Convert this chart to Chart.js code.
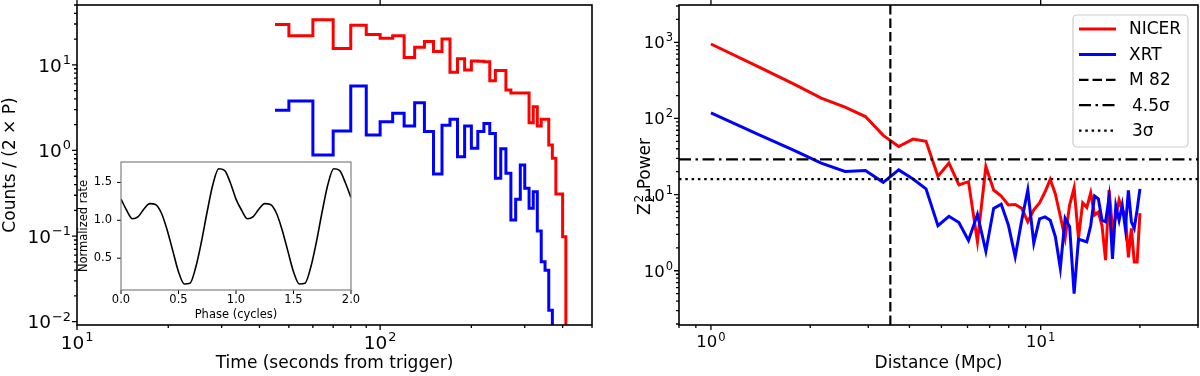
<!DOCTYPE html>
<html>
<head>
<meta charset="utf-8">
<script src="https://cdn.jsdelivr.net/npm/chart.js@4.4.1/dist/chart.umd.min.js"></script>
<style>
  html, body { margin: 0; padding: 0; background: #fff; }
  #wrap { position: relative; width: 1200px; height: 376px; }
  .box { position: absolute; }
</style>
</head>
<body>
<div id="wrap">
  <div class="box" style="left:0;top:0;width:600px;height:376px"><canvas id="lc"></canvas></div>
  <div class="box" style="left:70px;top:150px;width:290px;height:175px"><canvas id="inset"></canvas></div>
  <div class="box" style="left:600px;top:0;width:600px;height:376px"><canvas id="rc"></canvas></div>
</div>
<script>
// left panel: light curves, bin left edges (s) and counts per bin
const timeEdges = [45, 50, 60, 70, 80, 90, 100, 110, 120, 130, 140, 150, 160, 170, 180, 190, 200,
  210, 220, 230, 240, 250, 260, 270, 280, 290, 300, 310, 320, 330, 340, 350, 360, 370, 380, 390, 400, 410];
const nicerCounts = [29.6, 21.8, 33.6, 15.5, 29.1, 22.6, 20.5, 21.8, 12.2, 16.1, 18.7, 14.3, 20.0,
  8.2, 11.8, 8.7, 11.1, 11.0, 10.9, 6.5, 8.6, 8.6, 5.1, 4.7, 4.7, 4.7, 4.7, 2.11, 3.25, 1.93, 2.32,
  2.32, 1.16, 0.81, 0.31, 0.31, 0.098];
const xrtCounts = [2.95, 3.79, 0.886, 1.69, 5.68, 1.52, 2.17, 2.72, 1.93, 3.62, 1.67, 0.531, 1.97,
  2.32, 0.846, 1.93, 1.06, 1.66, 2.07, 1.58, 0.473, 1.05, 0.541, 0.154, 0.269, 0.677, 0.361, 0.211,
  0.33, 0.115, 0.050, 0.040, 0.0136];
const timeTicks = [10, 100];
const countTicks = [0.01, 0.1, 1, 10];

// inset: pulse profile
const phase = [0, 0.05, 0.1, 0.15, 0.2, 0.25, 0.3, 0.35, 0.4, 0.45, 0.5, 0.55, 0.6, 0.65, 0.7, 0.75,
  0.8, 0.85, 0.9, 0.95, 1.0, 1.05, 1.1, 1.15, 1.2, 1.25, 1.3, 1.35, 1.4, 1.45, 1.5, 1.55, 1.6, 1.65,
  1.7, 1.75, 1.8, 1.85, 1.9, 1.95, 2.0];
const normRate = [1.28, 1.13, 1.02, 1.05, 1.15, 1.22, 1.21, 1.10, 0.88, 0.60, 0.32, 0.16, 0.17, 0.38,
  0.72, 1.12, 1.48, 1.68, 1.66, 1.50, 1.28, 1.13, 1.02, 1.05, 1.15, 1.22, 1.21, 1.10, 0.88, 0.60, 0.32,
  0.16, 0.17, 0.38, 0.72, 1.12, 1.48, 1.68, 1.66, 1.50, 1.30];
const phaseTicks = [0, 0.5, 1, 1.5, 2];
const rateTicks = [0.5, 1, 1.5];

// right panel: Z^2_2 power vs distance
const distances = [1.00, 1.39, 1.78, 2.16, 2.55, 2.94, 3.33, 3.71, 4.10, 4.49, 4.88, 5.27, 5.65, 6.04,
  6.43, 6.82, 7.20, 7.59, 7.98, 8.37, 8.76, 9.14, 9.53, 9.92, 10.31, 10.69, 11.08, 11.47, 11.86, 12.24,
  12.63, 13.02, 13.41, 13.80, 14.18, 14.57, 14.96, 15.35, 15.73, 16.12, 16.51, 16.90, 17.29, 17.67,
  18.06, 18.45, 18.84, 19.22, 19.61, 20.00];
const nicerPower = [950, 480, 284, 185, 141, 106, 60, 42.8, 53.6, 50.1, 17.4, 25.9, 13.4, 14.8, 2.41,
  23.4, 11.5, 9.6, 7.3, 7.4, 6.6, 4.4, 6.3, 7.8, 10.9, 15.8, 10.2, 5.2, 2.67, 7.3, 12.3, 2.7, 7.8, 6.8,
  10.5, 5.4, 5.9, 3.9, 1.38, 11.5, 3.6, 5.1, 8.5, 6.3, 5.6, 1.5, 3.6, 1.3, 1.3, 5.7];
const xrtPower = [118, 62, 38.3, 25.9, 20.1, 20.7, 14.5, 21.1, 16, 11.9, 3.9, 5.2, 4.3, 2.5, 5.5, 1.8,
  6.6, 7.5, 4.0, 1.53, 4.6, 11.5, 2.3, 4.8, 5.1, 4.6, 2.8, 1.08, 4.9, 3.8, 0.50, 2.6, 2.5, 2.4, 3.9, 9.6,
  8.8, 4.6, 4.4, 9.0, 1.43, 7.1, 4.6, 7.3, 3.6, 11.4, 4.4, 3.6, 6.3, 11.9];
const m82Distance = 3.5;
const sigma45 = 29;
const sigma3 = 16;
const distTicks = [1, 10];
const powerTicks = [1, 10, 100, 1000];

const FONT = 'DejaVu Sans';

function logTicks(min, max, majors) {
  const out = [];
  for (let e = Math.floor(Math.log10(min)); e <= Math.ceil(Math.log10(max)); e++) {
    for (let m = 1; m < 10; m++) {
      const v = m * Math.pow(10, e);
      if (v >= min * 0.9999 && v <= max * 1.0001) {
        out.push({ value: v, major: majors.some(t => Math.abs(t - v) / t < 1e-6) });
      }
    }
  }
  return out;
}

// step line: each count holds until the next edge, then drops to the axis floor
function stepPoints(edges, counts, floor) {
  const pts = counts.map((c, i) => ({ x: edges[i], y: c }));
  pts.push({ x: edges[counts.length], y: floor });
  return pts;
}

// draws "10" with a raised, smaller exponent (like matplotlib mathtext)
function drawPow10(ctx, v, size, x, y, align) {
  const exp = String(Math.round(Math.log10(v))).replace('-', '\u2212');
  const big = size + 'px "' + FONT + '"', small = (size * 0.7).toFixed(1) + 'px "' + FONT + '"';
  ctx.font = big;
  const wb = ctx.measureText('10').width;
  ctx.font = small;
  const we = ctx.measureText(exp).width;
  const total = wb + we + 1;
  let x0 = align === 'right' ? x - total : x - total / 2;
  const base = y + 0.36 * size; // y is the vertical centre of the digits
  ctx.font = big;
  ctx.fillText('10', x0, base);
  ctx.font = small;
  ctx.fillText(exp, x0 + wb + 1, base - 0.42 * size);
}

// frame, outward tick marks and power-of-ten labels, like matplotlib spines
const frameTicks = {
  id: 'frameTicks',
  afterDraw(chart, args, o) {
    const { ctx, chartArea: a } = chart;
    const xs = chart.scales.x, ys = chart.scales.y;
    ctx.save();
    ctx.strokeStyle = o.tickColor;
    ctx.lineWidth = o.tickWidth;
    ctx.beginPath();
    xs.ticks.forEach(t => {
      const p = xs.getPixelForValue(t.value);
      const len = t.major ? o.major : o.minor;
      ctx.moveTo(p, a.bottom); ctx.lineTo(p, a.bottom + len);
      if (t.major && o.top) { ctx.moveTo(p, a.top); ctx.lineTo(p, a.top - len); }
    });
    ys.ticks.forEach(t => {
      const p = ys.getPixelForValue(t.value);
      const len = t.major ? o.major : o.minor;
      ctx.moveTo(a.left, p); ctx.lineTo(a.left - len, p);
    });
    ctx.stroke();
    ctx.strokeStyle = o.color;
    ctx.lineWidth = o.width;
    ctx.strokeRect(a.left, a.top, a.right - a.left, a.bottom - a.top);
    if (o.labels) {
      ctx.fillStyle = '#000';
      ctx.textBaseline = 'alphabetic';
      ctx.textAlign = 'left';
      xs.ticks.filter(t => t.major).forEach(t => {
        drawPow10(ctx, t.value, o.labels.size, xs.getPixelForValue(t.value), a.bottom + o.labels.xOff, 'center');
      });
      ys.ticks.filter(t => t.major).forEach(t => {
        drawPow10(ctx, t.value, o.labels.size, a.left - o.labels.yOff, ys.getPixelForValue(t.value), 'right');
      });
    }
    ctx.restore();
  }
};

const whiteArea = {
  id: 'whiteArea',
  beforeDraw(chart) {
    const { ctx, chartArea: a } = chart;
    ctx.save();
    ctx.fillStyle = '#fff';
    ctx.fillRect(a.left, a.top, a.right - a.left, a.bottom - a.top);
    ctx.restore();
  }
};

const boxLegend = {
  id: 'boxLegend',
  afterDraw(chart, args, o) {
    const { ctx } = chart;
    ctx.save();
    ctx.beginPath();
    ctx.roundRect(o.x, o.y, o.w, o.h, 4);
    ctx.fillStyle = 'rgba(255,255,255,0.8)';
    ctx.fill();
    ctx.strokeStyle = '#cccccc';
    ctx.lineWidth = 1.2;
    ctx.stroke();
    chart.data.datasets.forEach((ds, i) => {
      const cy = o.y + o.first + i * o.gap;
      ctx.beginPath();
      ctx.setLineDash(ds.borderDash || []);
      ctx.strokeStyle = ds.borderColor;
      ctx.lineWidth = ds.borderWidth;
      ctx.moveTo(o.x + 6, cy);
      ctx.lineTo(o.x + 43, cy);
      ctx.stroke();
      ctx.setLineDash([]);
      ctx.fillStyle = '#000';
      ctx.font = '17px "' + FONT + '"';
      ctx.textBaseline = 'middle';
      ctx.fillText(ds.label, o.x + (i > 2 ? 59 : 56), cy + 1);
    });
    ctx.restore();
  }
};

// y title with stacked sub/superscript: Z^2_2 Power
const zTitle = {
  id: 'zTitle',
  afterDraw(chart, args, o) {
    const { ctx, chartArea: a } = chart;
    const big = '17px "' + FONT + '"', small = '12px "' + FONT + '"';
    ctx.save();
    ctx.translate(o.x, (a.top + a.bottom) / 2 + o.dy);
    ctx.rotate(-Math.PI / 2);
    ctx.fillStyle = '#000';
    ctx.textBaseline = 'alphabetic';
    ctx.font = big;
    const wz = ctx.measureText('Z').width, wp = ctx.measureText(' Power').width;
    ctx.font = small;
    const w2 = ctx.measureText('2').width;
    let x = -(wz + w2 + wp) / 2;
    const base = 6;
    ctx.font = big; ctx.fillText('Z', x, base); x += wz;
    ctx.font = small; ctx.fillText('2', x + 1, base - 7); ctx.fillText('2', x + 1, base + 4); x += w2 + 1;
    ctx.font = big; ctx.fillText(' Power', x, base);
    ctx.restore();
  }
};

const labelFont = { family: FONT, size: 17 };
const smallFont = { family: FONT, size: 11.5 };

// fixed axis sizes, no extra padding for edge tick labels
const fixX = h => s => { s.height = h; s.paddingLeft = 0; s.paddingRight = 0; };
const fixY = w => s => { s.width = w; s.paddingTop = 0; s.paddingBottom = 0; };

function logAxis(min, max, majors, extra) {
  return Object.assign({
    type: 'logarithmic', min: min, max: max,
    afterBuildTicks: s => { s.ticks = logTicks(min, max, majors); },
    grid: { display: false, drawTicks: false },
    border: { display: false },
    ticks: { display: false, autoSkip: false }
  }, extra);
}

const common = {
  responsive: true, maintainAspectRatio: false, animation: false, devicePixelRatio: 1
};

// ---- left panel ----
const countMin = 0.00915, countMax = 50;
new Chart(document.getElementById('lc'), {
  type: 'line',
  data: {
    datasets: [
      { label: 'NICER', data: stepPoints(timeEdges, nicerCounts, countMin), borderColor: '#ff0000', borderWidth: 3, stepped: true, pointRadius: 0 },
      { label: 'XRT', data: stepPoints(timeEdges, xrtCounts, countMin), borderColor: '#0000ff', borderWidth: 3, stepped: true, pointRadius: 0 }
    ]
  },
  options: Object.assign({}, common, {
    layout: { padding: { left: 0, right: 8, top: 5, bottom: 2 } },
    plugins: {
      legend: { display: false }, tooltip: { enabled: false },
      frameTicks: { color: '#000', width: 1.6, tickColor: '#000', tickWidth: 1.3, major: 5, minor: 3, top: true,
        labels: { size: 18.5, xOff: 17, yOff: 6 } }
    },
    scales: {
      x: logAxis(10, 500, timeTicks, {
        afterFit: fixX(49),
        title: { display: true, text: 'Time (seconds from trigger)', font: labelFont, color: '#000', padding: 0 }
      }),
      y: logAxis(countMin, countMax, countTicks, {
        afterFit: fixY(77),
        title: { display: true, text: 'Counts / (2 × P)', font: labelFont, color: '#000', padding: 0 }
      })
    }
  }),
  plugins: [frameTicks]
});

// ---- inset ----
new Chart(document.getElementById('inset'), {
  type: 'line',
  data: {
    datasets: [{ data: phase.map((p, i) => ({ x: p, y: normRate[i] })), borderColor: '#000', borderWidth: 1.6, pointRadius: 0, cubicInterpolationMode: 'monotone' }]
  },
  options: Object.assign({}, common, {
    layout: { padding: { left: 0, right: 9, top: 12, bottom: 0 } },
    plugins: {
      legend: { display: false }, tooltip: { enabled: false },
      frameTicks: { color: '#808080', width: 1.2, tickColor: '#000', tickWidth: 1, major: 4, minor: 0, top: false }
    },
    scales: {
      x: {
        type: 'linear', min: 0, max: 2,
        afterBuildTicks: s => { s.ticks = phaseTicks.map(v => ({ value: v, major: true })); },
        afterFit: fixX(35),
        grid: { display: false, drawTicks: false }, border: { display: false },
        ticks: { padding: 3, font: smallFont, color: '#000', maxRotation: 0, callback: v => v.toFixed(1) },
        title: { display: true, text: 'Phase (cycles)', font: smallFont, color: '#000', padding: { top: 0, bottom: 3 } }
      },
      y: {
        type: 'linear', min: 0.08, max: 1.77,
        afterBuildTicks: s => { s.ticks = rateTicks.map(v => ({ value: v, major: true })); },
        afterFit: fixY(51),
        grid: { display: false, drawTicks: false }, border: { display: false },
        ticks: { padding: 9, font: smallFont, color: '#000', callback: v => v.toFixed(1) },
        title: { display: true, text: 'Normalized rate', font: smallFont, color: '#000', padding: { top: 7, bottom: 0 } }
      }
    }
  }),
  plugins: [whiteArea, frameTicks]
});

// ---- right panel ----
const powerMin = 0.194, powerMax = 3090, distMin = 0.8, distMax = 30;
new Chart(document.getElementById('rc'), {
  type: 'line',
  data: {
    datasets: [
      { label: 'NICER', data: distances.map((d, i) => ({ x: d, y: nicerPower[i] })), borderColor: '#ff0000', borderWidth: 3, pointRadius: 0, order: 5 },
      { label: 'XRT', data: distances.map((d, i) => ({ x: d, y: xrtPower[i] })), borderColor: '#0000ff', borderWidth: 3, pointRadius: 0, order: 4 },
      { label: 'M 82', data: [{ x: m82Distance, y: powerMin }, { x: m82Distance, y: powerMax }], borderColor: '#000', borderWidth: 2.2, borderDash: [9.5, 4], pointRadius: 0, order: 3 },
      { label: '4.5σ', data: [{ x: distMin, y: sigma45 }, { x: distMax, y: sigma45 }], borderColor: '#000', borderWidth: 2.2, borderDash: [12, 4.5, 2.5, 4.5], pointRadius: 0, order: 2 },
      { label: '3σ', data: [{ x: distMin, y: sigma3 }, { x: distMax, y: sigma3 }], borderColor: '#000', borderWidth: 2.2, borderDash: [2.5, 3.8], pointRadius: 0, order: 1 }
    ]
  },
  options: Object.assign({}, common, {
    layout: { padding: { left: 0, right: 2, top: 5, bottom: 2 } },
    plugins: {
      legend: { display: false }, tooltip: { enabled: false },
      frameTicks: { color: '#000', width: 1.6, tickColor: '#000', tickWidth: 1.3, major: 5, minor: 3, top: true,
        labels: { size: 16.5, xOff: 16.5, yOff: 6 } },
      boxLegend: { x: 473, y: 15, w: 115, h: 132, first: 14, gap: 25.4 },
      zTitle: { x: 44, dy: 12 }
    },
    scales: {
      x: logAxis(distMin, distMax, distTicks, {
        afterFit: fixX(49),
        title: { display: true, text: 'Distance (Mpc)', font: labelFont, color: '#000', padding: 0 }
      }),
      y: logAxis(powerMin, powerMax, powerTicks, {
        afterFit: fixY(79),
        title: { display: false }
      })
    }
  }),
  plugins: [frameTicks, boxLegend, zTitle]
});
</script>
</body>
</html>
